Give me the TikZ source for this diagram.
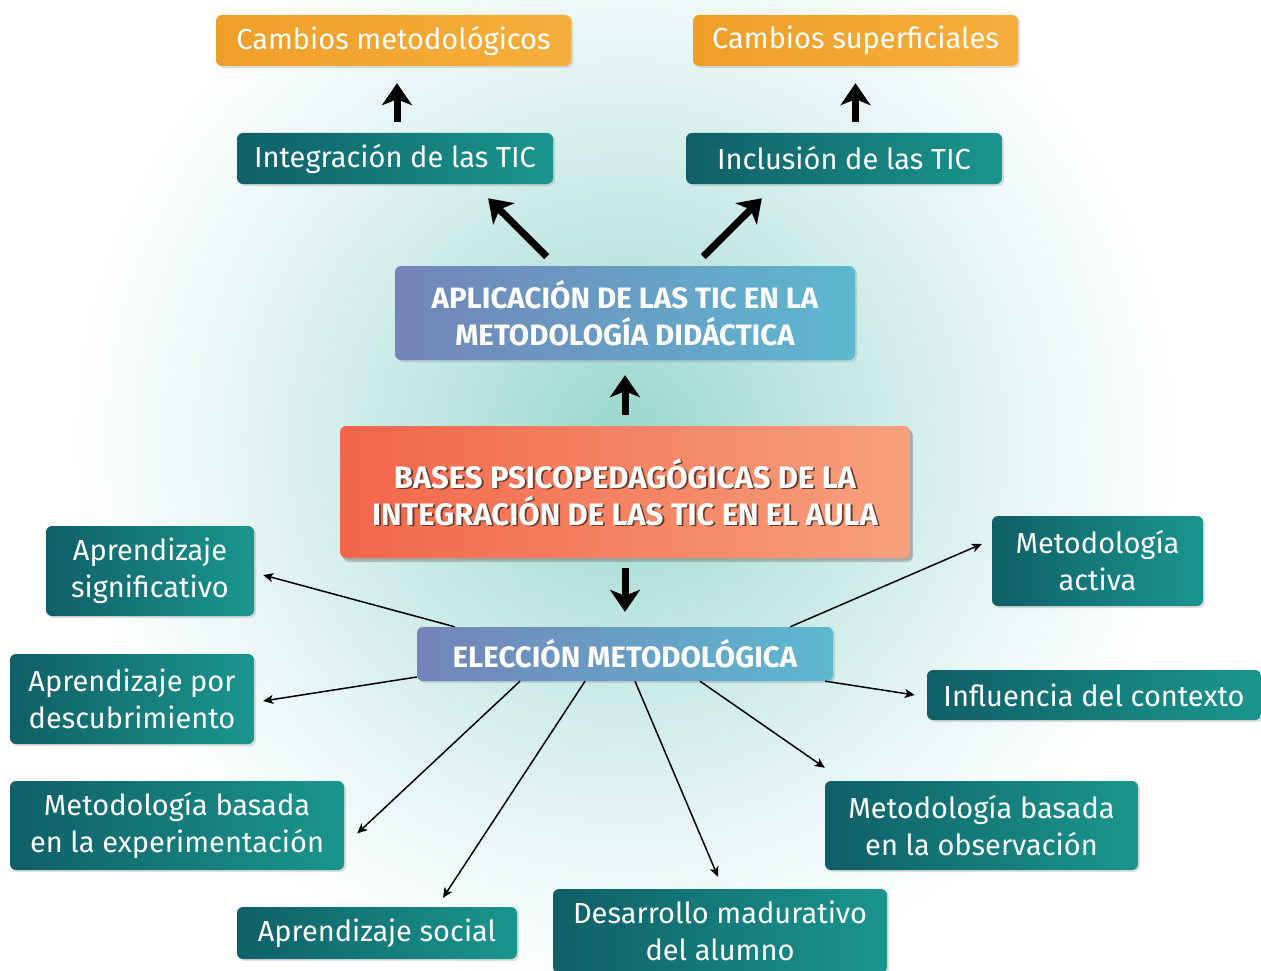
\documentclass[tikz,border=0pt]{standalone}
\usepackage{fontspec}
\setmainfont{Fira Sans}
\usetikzlibrary{arrows.meta,shadows,calc}
\definecolor{orangeL}{HTML}{EF9F28}
\definecolor{orangeR}{HTML}{F5AE3C}
\definecolor{tealL}{HTML}{0F5F67}
\definecolor{tealR}{HTML}{1A968E}
\definecolor{blueL}{HTML}{7384B8}
\definecolor{blueR}{HTML}{5DB8D0}
\definecolor{redL}{HTML}{F2664A}
\definecolor{redR}{HTML}{F6A07C}
\definecolor{glowA}{HTML}{98D6CC}
\definecolor{glowB}{HTML}{C2E7E3}
\definecolor{glowC}{HTML}{E8F6F5}
\definecolor{embossc}{HTML}{6A3A2A}
\pgfdeclareradialshading{glow}{\pgfpoint{0bp}{0bp}}{color(0bp)=(glowA); color(9bp)=(glowB); color(18bp)=(glowC); color(25bp)=(white); color(50bp)=(white)}
\tikzset{
  box/.style={rounded corners=6pt, inner sep=0pt, align=center, text=white,
    font=\fontsize{29}{37}\selectfont,
    drop shadow={opacity=0.25, shadow xshift=2pt, shadow yshift=-2pt}},
  tealbox/.style={box, left color=tealL, right color=tealR},
  orangebox/.style={box, left color=orangeL, right color=orangeR},
  bluebox/.style={box, left color=blueL, right color=blueR, font=\bfseries\fontsize{29.5}{37}\selectfont},
  redbox/.style={box, left color=redL, right color=redR,
    drop shadow={opacity=0.45, shadow xshift=3pt, shadow yshift=-4pt}},
  basestext/.style={font=\bfseries\fontsize{31}{37}\selectfont, align=center},
  bigarrow/.style={line width=7pt, -{Stealth[length=22pt,width=30pt,inset=6pt]}},
  thinarrow/.style={line width=1.5pt, -{Stealth[length=10pt,width=9pt,inset=2.5pt]}},
}
\begin{document}
\begin{tikzpicture}[x=1pt,y=-1pt]
\useasboundingbox (0,0) rectangle (1261,971);
\begin{scope}
\clip (0,0) rectangle (1261,971);
\fill[white] (0,0) rectangle (1261,971);
\shade[shading=glow] (625,440) circle (560);

% top row
\node[orangebox, minimum width=355pt, minimum height=51pt] (cm) at (393.5,40.5) {Cambios metodológicos};
\node[orangebox, minimum width=325pt, minimum height=51pt] (cs) at (855.5,40.5) {Cambios superficiales};
\node[tealbox, minimum width=316pt, minimum height=51pt] (it) at (395,158.5) {Integración de las TIC};
\node[tealbox, minimum width=316pt, minimum height=51pt] (in) at (844,158.5) {Inclusión de las TIC};

% centre
\node[bluebox, minimum width=460pt, minimum height=94pt] (ap) at (625,313) {APLICACIÓN DE LAS TIC EN LA\\METODOLOGÍA DIDÁCTICA};
\node[redbox, minimum width=570pt, minimum height=132pt] (bp) at (625,492) {};
\node[basestext, text=embossc] at (626.8,493.8) {BASES PSICOPEDAGÓGICAS DE LA\\INTEGRACIÓN DE LAS TIC EN EL AULA};
\node[basestext, text=white] (bpt) at (625,492) {BASES PSICOPEDAGÓGICAS DE LA\\INTEGRACIÓN DE LAS TIC EN EL AULA};
\node[bluebox, minimum width=416pt, minimum height=54pt] (el) at (625,654) {ELECCIÓN METODOLÓGICA};

% leaves
\node[tealbox, minimum width=208pt, minimum height=90pt] (as) at (150,571) {Aprendizaje\\significativo};
\node[tealbox, minimum width=244pt, minimum height=90pt] (ad) at (132,699) {Aprendizaje por\\descubrimiento};
\node[tealbox, minimum width=334pt, minimum height=89pt] (me) at (177,825.5) {Metodología basada\\en la experimentación};
\node[tealbox, minimum width=280pt, minimum height=52pt] (so) at (377,933) {Aprendizaje social};
\node[tealbox, minimum width=334pt, minimum height=84pt] (dm) at (720,931) {Desarrollo madurativo\\del alumno};
\node[tealbox, minimum width=313pt, minimum height=89pt] (mo) at (981.5,825.5) {Metodología basada\\en la observación};
\node[tealbox, minimum width=334pt, minimum height=50pt] (ic) at (1094,695) {Influencia del contexto};
\node[tealbox, minimum width=211pt, minimum height=90pt] (ma) at (1097.5,561) {Metodología\\activa};

% thick arrows
\draw[bigarrow, shorten <=11pt, shorten >=17pt] ([xshift=2pt]it.north) -- ([xshift=2pt]it.north |- cm.south);
\draw[bigarrow, shorten <=11pt, shorten >=17pt] (in.north -| cs.south) -- (cs.south);
\draw[bigarrow, shorten <=13pt, shorten >=20pt] ([xshift=-69pt]ap.north) -- ([xshift=79pt]it.south);
\draw[bigarrow, shorten <=13pt, shorten >=20pt] ([xshift=69pt]ap.north) -- ([xshift=-68pt]in.south);
\draw[bigarrow, shorten <=11pt, shorten >=15pt] (bp.north) -- (ap.south);
\draw[bigarrow, shorten <=10pt, shorten >=15pt] (bp.south) -- (el.north);

% thin arrows
\draw[thinarrow] ([xshift=38pt]el.north west) -- ([xshift=9pt,yshift=-4pt]as.east);
\draw[thinarrow] ([yshift=-23pt]el.west) -- ([xshift=9pt,yshift=-2pt]ad.east);
\draw[thinarrow] ([xshift=-105pt]el.south) -- ([xshift=13pt,yshift=-8pt]me.east);
\draw[thinarrow] ([xshift=-40pt]el.south) -- ([xshift=66pt,yshift=9pt]so.north);
\draw[thinarrow] ([xshift=10pt]el.south) -- ([xshift=-2pt,yshift=12pt]dm.north);
\draw[thinarrow] ([xshift=75pt]el.south) -- ([yshift=13pt]mo.north west);
\draw[thinarrow] ([xshift=-8pt]el.south east) -- ([xshift=-12pt]ic.west);
\draw[thinarrow] ([xshift=-43pt]el.north east) -- ([xshift=-10pt,yshift=17pt]ma.west);
\end{scope}
\end{tikzpicture}
\end{document}
